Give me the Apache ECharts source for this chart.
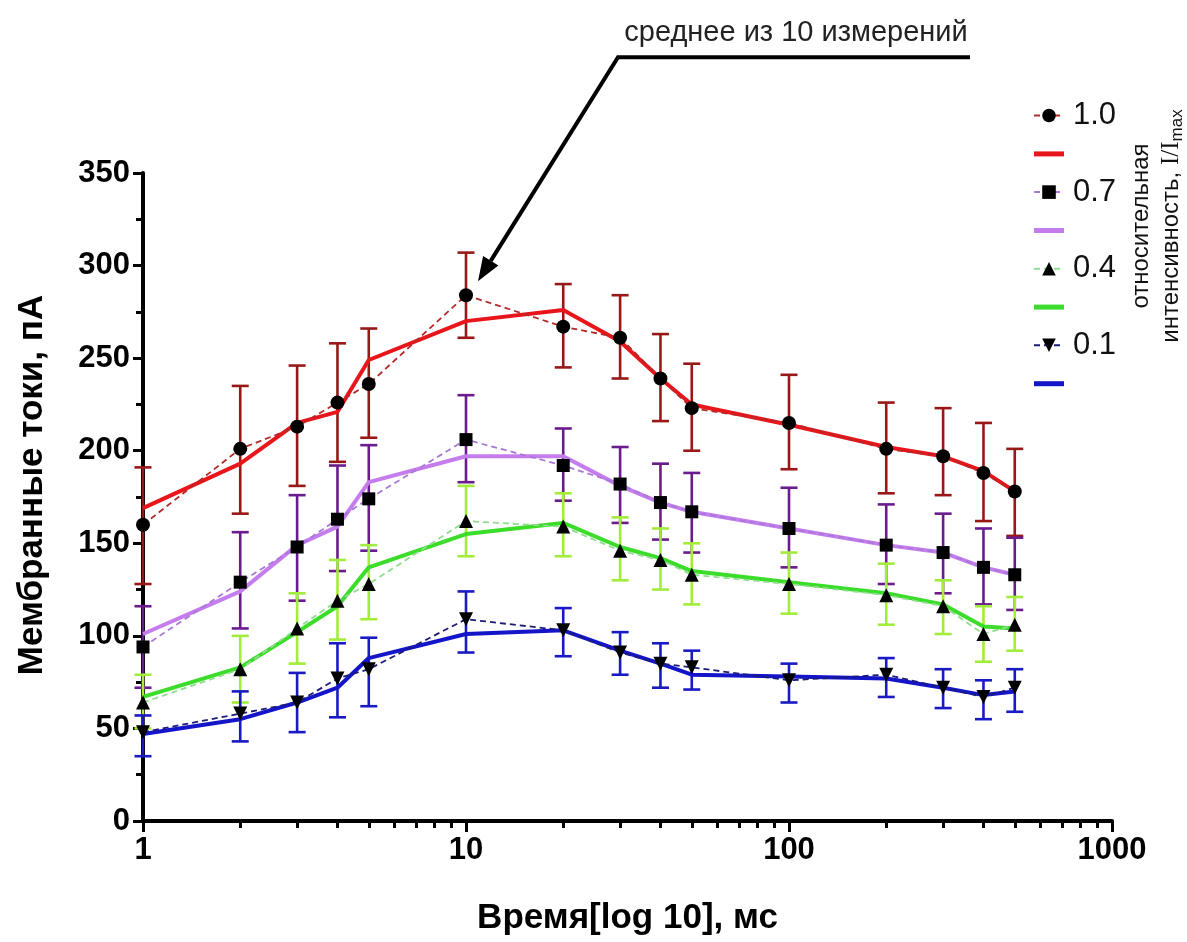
<!DOCTYPE html>
<html>
<head>
<meta charset="utf-8">
<script src="https://cdn.jsdelivr.net/npm/echarts@6.0.0/dist/echarts.min.js"></script>
<style>
html,body{margin:0;padding:0;background:#fff;}
#main{width:1187px;height:942px;}
</style>
</head>
<body>
<div id="main"></div>
<script>
// ---- data ----
const times = [1, 2, 3, 4, 5, 10, 20, 30, 40, 50, 100, 200, 300, 400, 500];
const xMinorTicks = [2,3,4,5,6,7,8,9,20,30,40,50,60,70,80,90,200,300,400,500,600,700,800,900];
const xMajorTicks = [1, 10, 100, 1000];
const levels = ['1.0', '0.7', '0.4', '0.1'];

const mean10 = [160, 201, 213, 226, 236, 284, 267, 261, 239, 223, 215, 201, 197, 188, 178];
const hi10   = [191, 235, 246, 258, 266, 307, 290, 284, 263, 247, 241, 226, 223, 215, 201];
const lo10   = [128, 166, 181, 194, 207, 261, 245, 239, 216, 200, 190, 177, 176, 162, 154];
const fit10  = [169, 193, 215, 221, 249, 270, 276, 259, 239, 225, 214, 202, 197, 189, 178];

const mean07 = [94, 129, 148, 163, 174, 206, 192, 182, 172, 167, 158, 149, 145, 137, 133];
const hi07   = [116, 156, 176, 192, 203, 230, 212, 202, 193, 188, 180, 171, 166, 158, 153];
const lo07   = [72, 104, 119, 135, 146, 183, 173, 161, 152, 145, 137, 128, 123, 117, 114];
const fit07  = [101, 124, 149, 159, 183, 197, 197, 181, 172, 167, 158, 149, 145, 137, 133];

const mean04 = [64, 82, 104, 119, 128, 162, 159, 146, 141, 133, 128, 122, 116, 101, 106];
const hi04   = [79, 100, 123, 141, 149, 181, 177, 164, 158, 150, 145, 139, 130, 116, 121];
const lo04   = [50, 64, 85, 98, 109, 143, 143, 130, 125, 117, 112, 106, 101, 86, 92];
const fit04  = [67, 83, 102, 116, 137, 155, 161, 148, 142, 135, 129, 123, 117, 105, 104];

const mean01 = [48, 58, 64, 77, 82, 109, 103, 91, 85, 83, 76, 79, 72, 67, 72];
const hi01   = [57, 70, 80, 96, 99, 124, 115, 102, 96, 92, 85, 88, 82, 76, 82];
const lo01   = [35, 43, 48, 56, 62, 91, 89, 79, 72, 71, 64, 67, 61, 55, 59];
const fit01  = [47, 55, 64, 72, 88, 101, 103, 92, 85, 79, 78, 77, 72, 68, 70];

const annotationText = 'среднее из 10 измерений';
const xName = 'Время[log 10], мс';
const yName = 'Мембранные токи, пА';

// ---- styles ----
const groups = [
  {name: levels[0], mean: mean10, hi: hi10, lo: lo10, fit: fit10, symbol: 'circle', size: 14,
   fitColor: '#e8161b', dashColor: '#b22a2a', errColor: '#981818'},
  {name: levels[1], mean: mean07, hi: hi07, lo: lo07, fit: fit07, symbol: 'rect', size: 13,
   fitColor: '#c57ded', dashColor: '#a878d8', errColor: '#6a1b8e'},
  {name: levels[2], mean: mean04, hi: hi04, lo: lo04, fit: fit04, symbol: 'triangle', size: 14,
   fitColor: '#3bdc2a', dashColor: '#90dd90', errColor: '#a2ec3a'},
  {name: levels[3], mean: mean01, hi: hi01, lo: lo01, fit: fit01, symbol: 'path://M0,0 L10,0 L5,9 Z', size: 14,
   fitColor: '#1414c8', dashColor: '#1c1c7a', errColor: '#1a1ac4'}
];

const FONT = '"Liberation Sans", Arial, sans-serif';
const series = [];
const legendData = [];
const barIcon = 'path://M0,0 L0,0 M0,4.6 L30,4.6 L30,9.6 L0,9.6 Z M30,14 L30,14';

groups.forEach(function (g) {
  series.push({
    type: 'custom',
    name: g.name + ' err',
    z: 2,
    data: times.map(function (t, i) { return [t, g.lo[i], g.hi[i]]; }),
    encode: {x: 0, y: [1, 2]},
    renderItem: function (params, api) {
      const lo = api.coord([api.value(0), api.value(1)]);
      const hi = api.coord([api.value(0), api.value(2)]);
      const hw = 8.5;
      const st = {stroke: g.errColor, lineWidth: 2.6};
      return {
        type: 'group',
        children: [
          {type: 'line', shape: {x1: hi[0], y1: hi[1], x2: lo[0], y2: lo[1]}, style: st},
          {type: 'line', shape: {x1: hi[0] - hw, y1: hi[1], x2: hi[0] + hw, y2: hi[1]}, style: st},
          {type: 'line', shape: {x1: lo[0] - hw, y1: lo[1], x2: lo[0] + hw, y2: lo[1]}, style: st}
        ]
      };
    }
  });
  series.push({
    type: 'line',
    name: g.name + ' fit',
    z: 3,
    symbol: 'none',
    data: times.map(function (t, i) { return [t, g.fit[i]]; }),
    lineStyle: {color: g.fitColor, width: 4},
    itemStyle: {color: g.fitColor}
  });
  series.push({
    type: 'line',
    name: g.name,
    z: 4,
    symbol: g.symbol,
    symbolSize: g.size,
    data: times.map(function (t, i) { return [t, g.mean[i]]; }),
    lineStyle: {color: g.dashColor, width: 1.8, type: [6, 4]},
    itemStyle: {color: '#000'}
  });
  legendData.push({name: g.name});
  legendData.push({name: g.name + ' fit', icon: barIcon, itemStyle: {color: g.fitColor}});
});

const chart = echarts.init(document.getElementById('main'), null, {renderer: 'canvas'});

chart.setOption({
  animation: false,
  backgroundColor: '#fff',
  grid: {left: 143, right: 75, top: 173, bottom: 121, containLabel: false},
  xAxis: [{
    type: 'log', logBase: 10, min: 1, max: 1000,
    name: xName, nameLocation: 'middle', nameGap: 80,
    nameTextStyle: {fontFamily: FONT, fontWeight: 'bold', fontSize: 35, color: '#000'},
    axisLine: {show: true, onZero: false, lineStyle: {color: '#000', width: 4}},
    axisTick: {show: true, length: 11, lineStyle: {color: '#000', width: 3}, customValues: xMajorTicks},
    axisLabel: {fontFamily: FONT, fontWeight: 'bold', fontSize: 31, color: '#000', margin: 14,
      customValues: xMajorTicks, formatter: function (v) { return String(Math.round(v)); }},
    splitLine: {show: false}
  }, {
    type: 'log', logBase: 10, min: 1, max: 1000, position: 'bottom',
    axisLine: {show: false},
    axisTick: {show: true, length: 7, lineStyle: {color: '#000', width: 3}, customValues: xMinorTicks},
    axisLabel: {show: false},
    splitLine: {show: false}
  }],
  yAxis: {
    type: 'value', min: 0, max: 350, interval: 50,
    name: yName, nameLocation: 'middle', nameGap: 93, nameRotate: 90,
    nameTextStyle: {fontFamily: FONT, fontWeight: 'bold', fontSize: 35, color: '#000', padding: [0, 0, 0, 24]},
    axisLine: {show: true, lineStyle: {color: '#000', width: 4}},
    axisTick: {show: true, length: 10, lineStyle: {color: '#000', width: 3}},
    minorTick: {show: true, splitNumber: 2, length: 7, lineStyle: {color: '#000', width: 3}},
    axisLabel: {fontFamily: FONT, fontWeight: 'bold', fontSize: 31, color: '#000', margin: 13},
    splitLine: {show: false}
  },
  legend: {
    orient: 'vertical',
    left: 1028, top: 95,
    itemWidth: 30, itemHeight: 17, itemGap: 7.3,
    data: legendData,
    formatter: function (name) { return /fit$/.test(name) ? ' ' : name; },
    textStyle: {fontFamily: FONT, fontSize: 31, color: '#111', lineHeight: 26, padding: [0, 0, 0, 4]},
    selectedMode: false
  },
  series: series
});

// annotation (text + arrow) anchored on the 10 ms point of the 1.0 series
const idx10 = times.indexOf(10);
const p = chart.convertToPixel({xAxisIndex: 0, yAxisIndex: 0}, [10, mean10[idx10]]);
const tip = [p[0] + 12, p[1] - 14];
const bend = [tip[0] + 140, tip[1] - 224];
const end = [bend[0] + 352, bend[1]];
const dx = tip[0] - bend[0], dy = tip[1] - bend[1];
const L = Math.sqrt(dx * dx + dy * dy);
const ux = dx / L, uy = dy / L;
const ah = 24, aw = 9;
const base = [tip[0] - ux * ah, tip[1] - uy * ah];
const px = -uy, py = ux;

chart.setOption({
  graphic: [
    {type: 'polyline', z: 10, shape: {points: [end, bend, base]},
     style: {stroke: '#000', lineWidth: 4, fill: null}},
    {type: 'polygon', z: 10, shape: {points: [tip, [base[0] + px * aw, base[1] + py * aw], [base[0] - px * aw, base[1] - py * aw]]},
     style: {fill: '#000'}},
    {type: 'text', z: 10, x: (bend[0] + end[0]) / 2 + 2, y: bend[1] - 10,
     style: {text: annotationText, fontFamily: FONT, fontSize: 29, fill: '#222', align: 'center', verticalAlign: 'bottom'}},
    {type: 'text', z: 10, x: 1156, y: 226, rotation: Math.PI / 2,
     style: {
       text: 'относительная\nинтенсивность, {s|I/I}{sub|max}',
       fontFamily: FONT, fontSize: 24, fill: '#111', align: 'center', verticalAlign: 'middle', lineHeight: 30,
       rich: {
         s: {fontFamily: '"Liberation Serif", "DejaVu Serif", serif', fontSize: 25, fill: '#111', lineHeight: 30},
         sub: {fontFamily: FONT, fontSize: 17, fill: '#111', lineHeight: 30, verticalAlign: 'bottom', padding: [10, 0, 0, 0]}
       }
     }}
  ]
});
</script>
</body>
</html>
